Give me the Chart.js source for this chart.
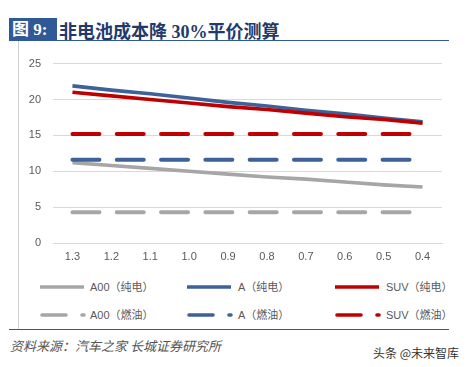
<!DOCTYPE html>
<html>
<head>
<meta charset="utf-8">
<script src="https://cdn.jsdelivr.net/npm/chart.js@4.4.1/dist/chart.umd.min.js"></script>
<style>
  html, body { margin: 0; padding: 0; background: #fff; }
  #wrap { position: relative; width: 470px; height: 367px; overflow: hidden; background: #fff; font-family: "Liberation Sans", "Noto Sans CJK SC", sans-serif; }
  #tag { position: absolute; left: 9px; top: 18px; width: 48px; height: 23px; background: #2F5A97; color: #fff; font: bold 17px "Liberation Serif", "Noto Sans CJK SC", serif; line-height: 23px; padding-left: 3px; box-sizing: border-box; white-space: nowrap; }
  #title { position: absolute; left: 59px; top: 17px; height: 24px; line-height: 24px; color: #1F3A6B; font: bold 18px "Liberation Serif", "Noto Sans CJK SC", serif; white-space: nowrap; }
  #title .cjk { font-family: "Noto Sans CJK SC", sans-serif; }
  #topline { position: absolute; left: 9px; top: 40px; width: 440px; height: 1px; background: #2F5A97; }
  #leftline { position: absolute; left: 18px; top: 41px; width: 1px; height: 288px; background: #D0D0D0; }
  #bottomline { position: absolute; left: 9px; top: 329px; width: 440px; height: 1px; background: #2F5A97; }
  #source { position: absolute; left: 10px; top: 336px; font: italic 13px "Noto Sans CJK SC", sans-serif; color: #555; white-space: nowrap; }
  #mark { position: absolute; left: 373px; top: 344px; font: 12px "Noto Sans CJK SC", sans-serif; color: #333; white-space: nowrap; }
  #cv { position: absolute; left: 0; top: 45px; }
  .lg { position: absolute; height: 14px; font-size: 11px; color: #595959; white-space: nowrap; line-height: 14px; }
  .lg svg { position: absolute; left: 0; top: 0; }
  .lg span { position: absolute; top: 0; }
</style>
</head>
<body>
<div id="wrap">
  <div id="tag">图 9:</div>
  <div id="title"><span class="cjk">非电池成本降</span> 30%<span class="cjk">平价测算</span></div>
  <div id="topline"></div>
  <div id="leftline"></div>
  <div id="cv"><canvas id="chart" width="470" height="235" style="width:470px;height:235px;"></canvas></div>
  <div id="legend"></div>
  <div id="bottomline"></div>
  <div id="source">资料来源：汽车之家 长城证券研究所</div>
  <div id="mark">头条 @未来智库</div>
</div>
<script>
// ---- data ----
const categories = ['1.3', '1.2', '1.1', '1.0', '0.9', '0.8', '0.7', '0.6', '0.5', '0.4'];
const a00EV  = [11.2, 10.8, 10.4, 10.0, 9.6, 9.2, 8.9, 8.5, 8.1, 7.8];
const aEV    = [21.9, 21.3, 20.8, 20.2, 19.6, 19.1, 18.5, 18.0, 17.4, 16.9];
const suvEV  = [21.0, 20.5, 20.0, 19.5, 19.0, 18.6, 18.1, 17.6, 17.2, 16.7];
const a00Fuel = [4.3, 4.3, 4.3, 4.3, 4.3, 4.3, 4.3, 4.3, 4.3, 4.3];
const aFuel   = [11.6, 11.6, 11.6, 11.6, 11.6, 11.6, 11.6, 11.6, 11.6, 11.6];
const suvFuel = [15.2, 15.2, 15.2, 15.2, 15.2, 15.2, 15.2, 15.2, 15.2, 15.2];
const seriesNames = ['A00（纯电）', 'A（纯电）', 'SUV（纯电）', 'A00（燃油）', 'A（燃油）', 'SUV（燃油）'];
const yTicks = [0, 5, 10, 15, 20, 25];

const GRAY = '#A6A6A6', BLUE = '#3D6199', RED = '#C00000';
const DASH = [27, 17.3];

const solid = (label, data, color, order) => ({
  label, data, borderColor: color, backgroundColor: color, borderWidth: 3.6,
  pointRadius: 0, tension: 0, fill: false, order, borderCapStyle: 'butt'
});
const dashed = (label, data, color, order) => ({
  label, data, borderColor: color, backgroundColor: color, borderWidth: 4,
  pointRadius: 0, tension: 0, fill: false, order, borderDash: DASH, borderCapStyle: 'round'
});

const datasets = [
  solid(seriesNames[0], a00EV, GRAY, 5),
  solid(seriesNames[1], aEV, BLUE, 1),
  solid(seriesNames[2], suvEV, RED, 0),
  dashed(seriesNames[3], a00Fuel, GRAY, 6),
  dashed(seriesNames[4], aFuel, BLUE, 4),
  dashed(seriesNames[5], suvFuel, RED, 3)
];

const tickFont = { family: '"Liberation Sans", "Noto Sans CJK SC", sans-serif', size: 11 };

new Chart(document.getElementById('chart'), {
  type: 'line',
  data: { labels: categories, datasets },
  options: {
    responsive: false,
    animation: false,
    devicePixelRatio: 1,
    layout: { padding: { top: 16, right: 28, left: 0, bottom: 13 } },
    plugins: { legend: { display: false }, tooltip: { enabled: false } },
    scales: {
      x: {
        offset: true,
        grid: { display: false, drawTicks: false },
        border: { display: true, color: '#D9D9D9', width: 1 },
        ticks: { color: '#595959', font: tickFont, padding: 7, maxRotation: 0, autoSkip: false },
        afterFit: s => { s.height = 24; }
      },
      y: {
        min: 0, max: 25,
        afterBuildTicks: s => { s.ticks = yTicks.map(v => ({ value: v })); },
        grid: { color: '#D9D9D9', lineWidth: 1, drawTicks: false },
        border: { display: false },
        ticks: { color: '#595959', font: tickFont, padding: 12 },
        afterFit: s => { s.width = 53; }
      }
    }
  }
});

// ---- HTML legend (3 columns x 2 rows) ----
const legendCols = [40, 187, 335];
const legendRows = [280, 308];
const legendColors = [GRAY, BLUE, RED, GRAY, BLUE, RED];
const lg = document.getElementById('legend');
seriesNames.forEach((name, i) => {
  const col = i % 3, row = Math.floor(i / 3);
  const d = document.createElement('div');
  d.className = 'lg';
  d.style.left = legendCols[col] + 'px';
  d.style.top = legendRows[row] + 'px';
  const dash = row === 1 ? 'stroke-dasharray="24 16" stroke-linecap="round"' : 'stroke-linecap="butt"';
  const x1 = row === 1 ? 2 : 0, x2 = 44;
  d.innerHTML = '<svg width="50" height="14"><line x1="' + x1 + '" y1="7" x2="' + x2 + '" y2="7" stroke="' + legendColors[i] + '" stroke-width="3.6" ' + dash + '/></svg>' +
    '<span style="left:' + (col === 0 ? 50 : 51) + 'px">' + name + '</span>';
  lg.appendChild(d);
});
</script>
</body>
</html>
